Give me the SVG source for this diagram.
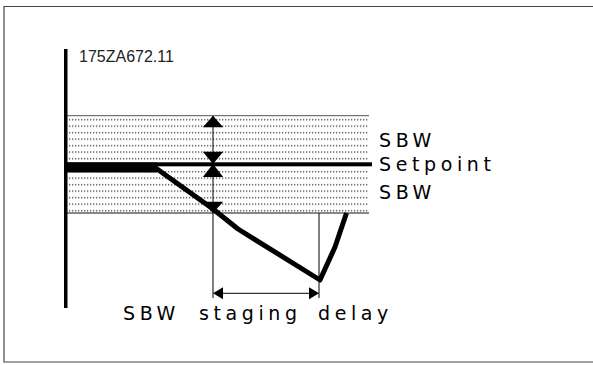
<svg xmlns="http://www.w3.org/2000/svg" width="593" height="365" viewBox="0 0 593 365">
<defs>
<style>
.lbl{font-family:"DejaVu Sans",sans-serif;font-size:19px;letter-spacing:4.6px;fill:#000}
.code{font-family:"Liberation Sans",Arial,sans-serif;font-size:16px;fill:#222}
.thin{stroke:#000;stroke-width:1;fill:none}
.head{fill:#000}
</style>
<pattern id="dots" patternUnits="userSpaceOnUse" x="0" y="117" width="3" height="6.5">
<rect x="0" y="2" width="1.3" height="1.3" fill="#444"/>
</pattern>
</defs>
<rect width="593" height="365" fill="#fff"/>
<path d="M600,6.5 H4 V362 H600" fill="none" stroke="#444" stroke-width="1.2"/>
<g id="band">
<rect x="67" y="115.7" width="302" height="97.3" fill="url(#dots)"/>
<line x1="67" y1="115.7" x2="369" y2="115.7" stroke="#555" stroke-width="1"/>
<line x1="67" y1="213" x2="369" y2="213" stroke="#888" stroke-width="2"/>
</g>
<g id="axis">
<rect x="64" y="49" width="3.5" height="259" fill="#000"/>
</g>
<g id="setpoint-line">
<rect x="67" y="162.3" width="305" height="4" fill="#000"/>
<rect x="67" y="162.5" width="90" height="10" fill="#000"/>
</g>
<g id="curve">
<path d="M155,167.5 L213,209 L238,229 L320,280 L335,247 L346.5,213" fill="none" stroke="#000" stroke-width="5" stroke-linejoin="round"/>
</g>
<g id="connectors">
<line class="thin" x1="213" y1="116" x2="213" y2="298"/>
<line class="thin" x1="319" y1="213" x2="319" y2="298"/>
<line class="thin" x1="215" y1="293.3" x2="317" y2="293.3"/>
<polygon class="head" points="213,115.7 202.8,127.3 223.2,127.3"/>
<polygon class="head" points="213,164 202.8,151.7 223.2,151.7"/>
<polygon class="head" points="213,164 202.8,177 223.2,177"/>
<polygon class="head" points="213,213 202.8,201.7 223.2,201.7"/>
<polygon class="head" points="213,293.3 223,287.3 223,299.3"/>
<polygon class="head" points="319,293.3 309,287.3 309,299.3"/>
</g>
<g id="labels">
<text class="code" x="79" y="61.5">175ZA672.11</text>
<text class="lbl" x="379" y="146.5">SBW</text>
<text class="lbl" x="379" y="171">Setpoint</text>
<text class="lbl" x="379" y="199">SBW</text>
<text class="lbl" y="320"><tspan x="123">SBW</tspan><tspan x="199">staging</tspan><tspan x="318">delay</tspan></text>
</g>
</svg>
